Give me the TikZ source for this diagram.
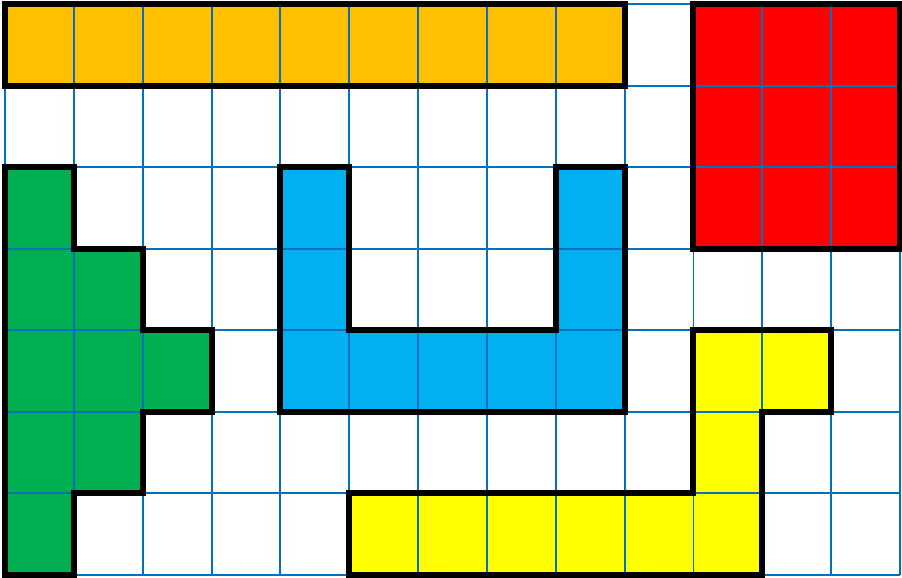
\documentclass[tikz,border=0pt]{standalone}
\definecolor{gridblue}{HTML}{0070C0}
\definecolor{orangeP}{HTML}{FFC000}
\definecolor{redP}{HTML}{FF0000}
\definecolor{greenP}{HTML}{00B050}
\definecolor{blueP}{HTML}{00B0F0}
\definecolor{yellowP}{HTML}{FFFF00}
\tikzset{
  gridline/.style={draw=gridblue, line width=1.1pt},
  piece/.style={draw=black, line width=3.4pt, line join=miter},
}
\begin{document}
\begin{tikzpicture}[x=1.377cm, y=-1.6314cm]
\useasboundingbox (-0.0726,-0.049) rectangle (13.029,7.037);
% fills
\fill[orangeP] (0,0) rectangle (9,1);
\fill[redP] (10,0) rectangle (13,3);
\fill[greenP] (0,2) -- (1,2) -- (1,3) -- (2,3) -- (2,4) -- (3,4) -- (3,5) -- (2,5) -- (2,6) -- (1,6) -- (1,7) -- (0,7) -- cycle;
\fill[blueP] (4,2) -- (5,2) -- (5,4) -- (8,4) -- (8,2) -- (9,2) -- (9,5) -- (4,5) -- cycle;
\fill[yellowP] (5,6) -- (10,6) -- (10,4) -- (12,4) -- (12,5) -- (11,5) -- (11,7) -- (5,7) -- cycle;
% grid
\foreach \i in {0,...,13} \draw[gridline] (\i,0) -- (\i,7);
\foreach \j in {0,...,7} \draw[gridline] (0,\j) -- (13,\j);
% outlines
\draw[piece] (0,0) rectangle (9,1);
\draw[piece] (10,0) rectangle (13,3);
\draw[piece] (0,2) -- (1,2) -- (1,3) -- (2,3) -- (2,4) -- (3,4) -- (3,5) -- (2,5) -- (2,6) -- (1,6) -- (1,7) -- (0,7) -- cycle;
\draw[piece] (4,2) -- (5,2) -- (5,4) -- (8,4) -- (8,2) -- (9,2) -- (9,5) -- (4,5) -- cycle;
\draw[piece] (5,6) -- (10,6) -- (10,4) -- (12,4) -- (12,5) -- (11,5) -- (11,7) -- (5,7) -- cycle;
\end{tikzpicture}
\end{document}
